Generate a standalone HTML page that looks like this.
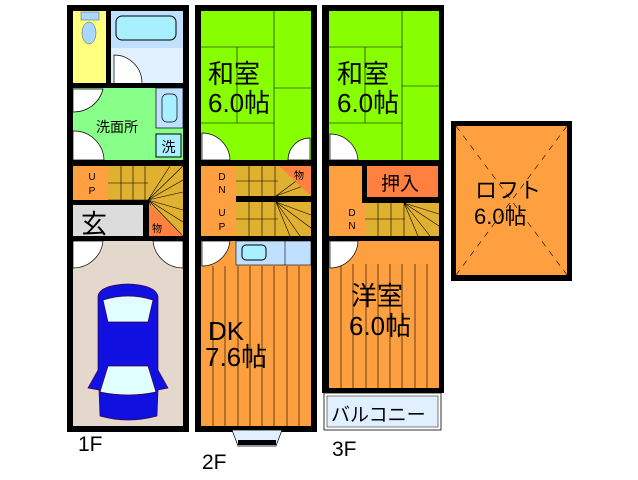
<!DOCTYPE html>
<html><head><meta charset="utf-8"><style>
html,body{margin:0;padding:0;background:#fff;width:638px;height:480px;overflow:hidden}
svg{display:block}
text{font-family:"Liberation Sans","Noto Sans CJK JP",sans-serif;fill:#000}
</style></head><body>
<svg width="638" height="480" viewBox="0 0 638 480" xmlns="http://www.w3.org/2000/svg">
<!-- ===== 1F ===== -->
<rect x="67" y="5" width="122" height="427" fill="#000"/>
<rect x="73" y="11" width="33" height="72" fill="#ffff80"/>
<rect x="111" y="11" width="72" height="37" fill="#c0e0ff"/>
<rect x="111" y="48" width="72" height="35" fill="#e0f0ff"/>
<rect x="116" y="16" width="60" height="24" rx="6" fill="#a8f0ff" stroke="#000"/>
<rect x="81" y="12" width="18" height="8" fill="#a8d8ff" stroke="#555" stroke-width=".5"/>
<ellipse cx="89" cy="33" rx="7" ry="11" fill="#a8d8ff" stroke="#555" stroke-width=".5"/>
<path d="M114 83 V55 A28 28 0 0 1 142 83" fill="#fff" stroke="#000" stroke-width=".7"/>
<rect x="73" y="88" width="110" height="72" fill="#88ff88"/>
<rect x="156" y="88" width="27" height="40" fill="#c0e0ff" stroke="#000" stroke-width=".7"/>
<rect x="162" y="94" width="15" height="28" rx="5" fill="#a8f0ff" stroke="#000" stroke-width=".7"/>
<rect x="156" y="134" width="25" height="23" fill="#a8f0ff" stroke="#000"/>
<text x="168.5" y="152" font-size="14" text-anchor="middle">洗</text>
<text x="96" y="132" font-size="14">洗面所</text>
<path d="M73 89 H103 A30 30 0 0 1 73 112 Z" fill="#fff" stroke="#000" stroke-width=".7"/>
<path d="M73 160 V131 A30 30 0 0 1 104 160 Z" fill="#fff" stroke="#000" stroke-width=".7"/>
<rect x="73" y="166" width="35" height="34" fill="#ffa040"/>
<text x="92" y="180" font-size="10" text-anchor="middle">U</text>
<text x="92" y="194" font-size="10" text-anchor="middle">P</text>
<rect x="108" y="166" width="75" height="70" fill="#e0b030"/>
<g stroke="#000" stroke-width=".6" fill="none">
<path d="M108 183 H148 M121 166 V200 M133 166 V200 M145 166 V200 M108 200 H148"/>
<path d="M148 200 L183 166 M148 200 L170 166 M148 200 L183 180 M148 200 L183 192 M148 200 L183 210 M148 200 L183 222 M148 200 L165 236 M148 200 L183 236"/>
</g>
<rect x="73" y="200" width="76" height="5" fill="#000"/>
<rect x="143" y="200" width="6" height="36" fill="#000"/>
<rect x="73" y="205" width="70" height="31" fill="#dcdcdc"/>
<text x="81" y="233" font-size="26">玄</text>
<path d="M149 204 L183 236 L149 236 Z" fill="#ff8040"/>
<text x="152" y="232" font-size="10">物</text>
<rect x="73" y="241" width="110" height="185" fill="#e4d8cc"/>
<path d="M73 241 H103 A30 30 0 0 1 73 268 Z" fill="#fff" stroke="#000" stroke-width=".7"/>
<path d="M183 241 H153 A30 30 0 0 0 183 268 Z" fill="#fff" stroke="#000" stroke-width=".7"/>
<!-- car -->
<g stroke="#400040" stroke-width=".7">
<path d="M98 296 Q100 285 128 284 Q155 285 158 296 L158 370 L168 388 L158 390 L157 416 Q128 424 100 416 L99 390 L88 388 L98 370 Z" fill="#1010e0"/>
<path d="M103 300 Q128 292 153 300 L148 322 L108 322 Z" fill="#e0ffff"/>
<path d="M108 366 L148 366 L156 392 Q128 398 100 392 Z" fill="#e0ffff"/>
</g>
<!-- ===== 2F ===== -->
<rect x="195" y="5" width="122" height="427" fill="#000"/>
<rect x="201" y="11" width="110" height="149" fill="#88ff00"/>
<g stroke="#000" stroke-width=".6" fill="none">
<path d="M274 11 V160 M201 47 H274 M237 47 V123 M201 123 H274 M274 88 H311"/>
</g>
<text x="208" y="83" font-size="26">和室</text>
<text x="208" y="112" font-size="26">6.0帖</text>
<path d="M202 160 V133 A28 28 0 0 1 230 160 Z" fill="#fff" stroke="#000" stroke-width=".7"/>
<path d="M310 160 V138 A22 22 0 0 0 288 160 Z" fill="#fff" stroke="#000" stroke-width=".7"/>
<rect x="201" y="166" width="35" height="70" fill="#ffa040"/>
<text x="222" y="180" font-size="10" text-anchor="middle">D</text>
<text x="222" y="193" font-size="10" text-anchor="middle">N</text>
<text x="222" y="216" font-size="10" text-anchor="middle">U</text>
<text x="222" y="230" font-size="10" text-anchor="middle">P</text>
<rect x="236" y="166" width="75" height="30" fill="#e0b030"/>
<rect x="236" y="202" width="75" height="34" fill="#e0b030"/>
<rect x="236" y="196" width="75" height="6" fill="#000"/>
<g stroke="#000" stroke-width=".6" fill="none">
<path d="M236 181 H278 M249 166 V196 M262 166 V196 M275 166 V196 M236 219 H278 M249 202 V236 M262 202 V236 M275 202 V236"/>
<path d="M276 196 L311 170 M276 196 L311 183 M276 202 L311 215 M276 202 L311 228 M276 202 L300 236 M276 202 L290 236"/>
</g>
<path d="M279 166 H311 V196 Z" fill="#ff8040"/>
<text x="294" y="179" font-size="10">物</text>
<rect x="201" y="241" width="110" height="185" fill="#ffa040"/>
<g stroke="#000" stroke-width=".6">
<path d="M213 266 V426 M225 266 V426 M238 266 V426 M250 266 V426 M262 266 V426 M274 266 V426 M287 266 V426 M299 266 V426"/>
</g>
<rect x="236" y="241" width="75" height="24" fill="#c0e0ff" stroke="#000" stroke-width=".6"/>
<line x1="285" y1="241" x2="285" y2="265" stroke="#000" stroke-width=".6"/>
<rect x="242" y="245" width="24" height="15" rx="4" fill="#a8f0ff" stroke="#000"/>
<path d="M202 241 H230 A28 28 0 0 1 202 266 Z" fill="#fff" stroke="#000" stroke-width=".7"/>
<text x="208" y="340" font-size="26">DK</text>
<text x="205" y="366" font-size="26">7.6帖</text>
<path d="M232 430 H282 L276 446 H238 Z" fill="#e0f0ff" stroke="#000" stroke-width=".7"/>
<rect x="238" y="440" width="38" height="5" fill="#000"/>
<!-- ===== 3F ===== -->
<rect x="322" y="5" width="122" height="388" fill="#000"/>
<rect x="324" y="393" width="117" height="37" fill="#fff" stroke="#000" stroke-width=".8"/>
<rect x="327" y="396" width="111" height="31" fill="#e0f0ff" stroke="#000" stroke-width=".5"/>
<text x="331" y="421" font-size="19">バルコニー</text>
<rect x="329" y="11" width="110" height="149" fill="#88ff00"/>
<g stroke="#000" stroke-width=".6" fill="none">
<path d="M402 11 V160 M329 47 H402 M365 47 V123 M329 123 H402 M402 86 H439"/>
</g>
<text x="337" y="83" font-size="26">和室</text>
<text x="337" y="112" font-size="26">6.0帖</text>
<path d="M330 160 V134 A28 28 0 0 1 358 160 Z" fill="#fff" stroke="#000" stroke-width=".7"/>
<rect x="329" y="166" width="36" height="70" fill="#ffa040"/>
<text x="352" y="216" font-size="10" text-anchor="middle">D</text>
<text x="352" y="229" font-size="10" text-anchor="middle">N</text>
<rect x="362" y="163" width="82" height="40" fill="#000"/>
<rect x="367" y="166" width="71" height="31" fill="#ff8040"/>
<text x="381" y="190" font-size="19">押入</text>
<rect x="365" y="203" width="74" height="33" fill="#e0b030"/>
<g stroke="#000" stroke-width=".6" fill="none">
<path d="M365 219 H405 M378 203 V236 M391 203 V236 M404 203 V236 M404 203 L439 214 M404 203 L439 226 M404 203 L430 236 M404 203 L418 236"/>
</g>
<rect x="329" y="241" width="110" height="147" fill="#ffa040"/>
<g stroke="#000" stroke-width=".6">
<path d="M341 264 V388 M353 264 V388 M366 264 V388 M378 264 V388 M390 264 V388 M402 264 V388 M415 264 V388 M427 264 V388"/>
</g>
<path d="M330 241 H358 A28 28 0 0 1 330 268 Z" fill="#fff" stroke="#000" stroke-width=".7"/>
<text x="351" y="305" font-size="26">洋室</text>
<text x="349" y="335" font-size="26">6.0帖</text>
<!-- ===== Loft ===== -->
<rect x="451" y="121" width="121" height="160" fill="#000"/>
<rect x="456" y="126" width="111" height="149" fill="#ffa040"/>
<g stroke="#000" stroke-width=".6" stroke-dasharray="6 6">
<path d="M456 126 L567 275 M567 126 L456 275"/>
</g>
<text x="475" y="198" font-size="22">ロフト</text>
<text x="474" y="224" font-size="22">6.0帖</text>
<!-- floor labels -->
<text x="78" y="451" font-size="21">1F</text>
<text x="202" y="469" font-size="21">2F</text>
<text x="332" y="456" font-size="21">3F</text>
</svg>
</body></html>
